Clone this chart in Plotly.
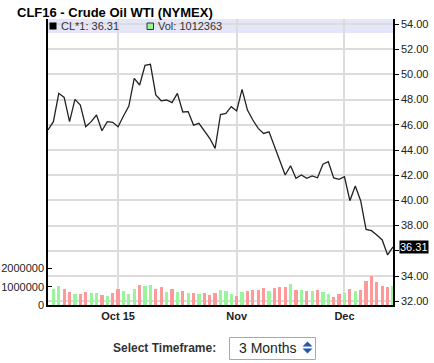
import plotly.graph_objects as go

# ---------------- data ----------------
dates = [
    "2015-09-14", "2015-09-15", "2015-09-16", "2015-09-17", "2015-09-18",
    "2015-09-21", "2015-09-22", "2015-09-23", "2015-09-24", "2015-09-25",
    "2015-09-28", "2015-09-29", "2015-09-30",
    "2015-10-01", "2015-10-02", "2015-10-05", "2015-10-06", "2015-10-07",
    "2015-10-08", "2015-10-09", "2015-10-12", "2015-10-13", "2015-10-14",
    "2015-10-15", "2015-10-16", "2015-10-19", "2015-10-20", "2015-10-21",
    "2015-10-22", "2015-10-23", "2015-10-26", "2015-10-27", "2015-10-28",
    "2015-10-29", "2015-10-30",
    "2015-11-02", "2015-11-03", "2015-11-04", "2015-11-05", "2015-11-06",
    "2015-11-09", "2015-11-10", "2015-11-11", "2015-11-12", "2015-11-13",
    "2015-11-16", "2015-11-17", "2015-11-18", "2015-11-19", "2015-11-20",
    "2015-11-23", "2015-11-24", "2015-11-25", "2015-11-27", "2015-11-30",
    "2015-12-01", "2015-12-02", "2015-12-03", "2015-12-04", "2015-12-07",
    "2015-12-08", "2015-12-09", "2015-12-10", "2015-12-11", "2015-12-14",
]

price = [
    45.59, 46.25, 48.50, 48.18, 46.25, 48.02, 47.57, 45.85, 46.25, 46.78,
    45.53, 46.25, 46.20, 45.85, 46.70, 47.49, 49.69, 49.16, 50.72, 50.80,
    48.37, 47.91, 47.97, 47.76, 48.50, 47.02, 47.05, 45.98, 46.12, 45.53,
    44.93, 44.13, 46.82, 46.91, 47.44, 47.10, 48.81, 47.17, 46.38, 45.72,
    45.32, 45.45, 44.26, 43.07, 42.02, 42.75, 41.75, 42.02, 41.75, 41.94,
    41.80, 42.87, 43.07, 41.78, 41.67, 41.88, 39.98, 41.14, 39.98, 37.70,
    37.60, 37.25, 36.86, 35.67, 36.31,
]

volume = [
    None, 860000, 1020000, 860000, 700000, 590000, 580000, 690000, 640000, 640000,
    530000, 470000, 640000, 850000, 790000, 580000, 850000, 1120000, 1060000, 1120000,
    850000, 1010000, 690000, 900000, 690000, 740000, 640000, 640000, 580000, 680000,
    530000, 640000, 840000, 740000, 590000, 480000, 690000, 740000, 840000, 840000,
    950000, 790000, 950000, 1000000, 1000000, 1160000, 840000, 840000, 790000, 740000,
    840000, 690000, 590000, 430000, 590000, 640000, 900000, 790000, 840000, 1310000,
    1570000, 1260000, 1050000, 1000000, 1012363,
]

price_ticks = [32, 34, 36, 38, 40, 42, 44, 46, 48, 50, 52, 54]
price_ticktext = ["32.00", "34.00", "", "38.00", "40.00", "42.00", "44.00",
                  "46.00", "48.00", "50.00", "52.00", "54.00"]
vol_ticks = [0, 1000000, 2000000]
month_ticks = ["2015-10-01", "2015-11-02", "2015-12-01"]
month_labels = ["Oct 15", "Nov", "Dec"]

# ---------------- geometry helpers (pixels -> paper) ----------------
W, H = 434, 363
L, R, T, B = 48, 393, 19, 305


def px(x):
    return (x - L) / (R - L)


def py(y):
    return (B - y) / (B - T)


FONT = "Liberation Sans, Arial, sans-serif"
UP, DOWN = "#99f599", "#ff9999"
bar_colors = [UP if i > 0 and price[i] >= price[i - 1] else DOWN
              for i in range(len(price))]

fig = go.Figure()
fig.add_trace(go.Bar(
    x=dates, y=volume, yaxis="y2", width=0.6,
    marker=dict(color=bar_colors, line=dict(width=0)),
    hoverinfo="skip", showlegend=False,
))
fig.add_trace(go.Scatter(
    x=dates, y=price, mode="lines",
    line=dict(color="#222222", width=1.3),
    showlegend=False,
))

grid = "#dcdcdc"
fig.update_layout(
    width=W, height=H, autosize=False,
    margin=dict(l=L, r=W - R, t=T, b=H - B, pad=0, autoexpand=False),
    paper_bgcolor="white", plot_bgcolor="white",
    font=dict(family=FONT, size=11, color="#222"),
    showlegend=False,
    bargap=0,
    xaxis=dict(
        type="category", range=[0, len(dates) - 1], automargin=False,
        tickvals=month_ticks,
        ticktext=["<b>%s</b>" % t for t in month_labels],
        showgrid=True, gridcolor=grid, gridwidth=1.5,
        showline=True, linecolor="black", linewidth=1.5,
        ticks="", zeroline=False,
        tickfont=dict(family=FONT, size=11, color="#222"),
    ),
    yaxis=dict(
        side="right", range=[31.70, 54.40], automargin=False,
        tickvals=price_ticks, ticktext=price_ticktext,
        showgrid=True, gridcolor=grid, gridwidth=1.5,
        showline=True, linecolor="black", linewidth=1.5,
        ticks="outside", ticklen=4, tickcolor="black",
        zeroline=False,
        tickfont=dict(family=FONT, size=11, color="#222"),
    ),
    yaxis2=dict(
        overlaying="y", side="left", range=[0, 15.63e6], automargin=False,
        tickvals=vol_ticks, tickformat="d",
        showgrid=False, zeroline=False,
        showline=True, linecolor="black", linewidth=1.5,
        ticks="inside", ticklen=4, tickcolor="black",
        tickfont=dict(family=FONT, size=11, color="#222"),
    ),
)

shapes = [
    # legend band
    dict(type="rect", xref="paper", yref="paper", x0=0, x1=1,
         y0=py(33), y1=py(19), fillcolor="#e6e6fa", line=dict(width=0),
         layer="between"),
    # black legend square
    dict(type="rect", xref="paper", yref="paper", x0=px(49.5), x1=px(56.5),
         y0=py(29.5), y1=py(22.5), fillcolor="black", line=dict(width=0)),
    # green legend square
    dict(type="rect", xref="paper", yref="paper", x0=px(147), x1=px(153.5),
         y0=py(29.5), y1=py(23), fillcolor=UP, line=dict(color="#333", width=1)),
    # timeframe select box
    dict(type="rect", xref="paper", yref="paper", x0=px(229.5), x1=px(315.5),
         y0=py(359.5), y1=py(337.5), fillcolor="white",
         line=dict(color="#a9a9a9", width=1)),
    # select arrows
    dict(type="path", xref="paper", yref="paper",
         path="M %f %f L %f %f L %f %f Z" % (px(302.5), py(346.5), px(312.5), py(346.5),
                                             px(307.5), py(341.5)),
         fillcolor="#2458a8", line=dict(width=0)),
    dict(type="path", xref="paper", yref="paper",
         path="M %f %f L %f %f L %f %f Z" % (px(302.5), py(348.5), px(312.5), py(348.5),
                                             px(307.5), py(353.5)),
         fillcolor="#2458a8", line=dict(width=0)),
]
fig.update_layout(shapes=shapes)

annotations = [
    dict(xref="paper", yref="paper", x=px(15), y=py(12),
         text="<b>CLF16 - Crude Oil WTI (NYMEX)</b>", showarrow=False,
         xanchor="left", yanchor="middle",
         font=dict(family=FONT, size=13, color="black")),
    dict(xref="paper", yref="paper", x=px(59), y=py(26),
         text="CL*1: %.2f" % price[-1], showarrow=False,
         xanchor="left", yanchor="middle",
         font=dict(family=FONT, size=11, color="#333")),
    dict(xref="paper", yref="paper", x=px(156), y=py(26),
         text="Vol: %d" % volume[-1], showarrow=False,
         xanchor="left", yanchor="middle",
         font=dict(family=FONT, size=11, color="#333")),
    dict(xref="paper", yref="y", x=px(398.5), y=price[-1],
         text="%.2f" % price[-1], showarrow=False,
         xanchor="left", yanchor="middle", bgcolor="black", borderpad=0,
         font=dict(family=FONT, size=11, color="white")),
    dict(xref="paper", yref="paper", x=px(218), y=py(348),
         text="<b>Select Timeframe:</b>", showarrow=False,
         xanchor="right", yanchor="middle",
         font=dict(family=FONT, size=12, color="#333")),
    dict(xref="paper", yref="paper", x=px(236.5), y=py(348),
         text="3 Months", showarrow=False,
         xanchor="left", yanchor="middle",
         font=dict(family=FONT, size=14, color="#222")),
]
fig.update_layout(annotations=annotations)

fig.write_html("out.html")
